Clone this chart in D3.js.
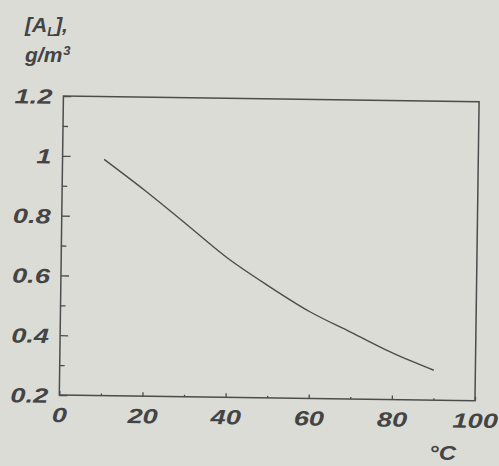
<!DOCTYPE html>
<html>
<head>
<meta charset="utf-8">
<script src="https://cdn.jsdelivr.net/npm/d3@7"></script>
<style>
  body { margin: 0; background: #dcdcd7; }
  svg { display: block; }
  .chart-text {
    font-family: 'Liberation Sans', Arial, sans-serif;
    font-weight: bold;
    font-style: italic;
    fill: #444444;
  }
</style>
</head>
<body>
<div id="chart"></div>
<script>
// Temperature (°C) and concentration [A_L] (g/m3).
var temperature = [10, 20, 30, 40, 50, 60, 70, 80, 90];
var concentration = [0.99, 0.887, 0.777, 0.666, 0.574, 0.49, 0.423, 0.356, 0.30];

var xTicks = [0, 20, 40, 60, 80, 100];
var xTickLabels = ['0', '20', '40', '60', '80', '100'];
var xMinorTicks = [10, 30, 50, 70, 90];
var yTicks = [0.2, 0.4, 0.6, 0.8, 1.0, 1.2];
var yTickLabels = ['0.2', '0.4', '0.6', '0.8', '1', '1.2'];
var yMinorTicks = [0.3, 0.5, 0.7, 0.9, 1.1];

;(function() {
  'use strict';

  var width = 499, height = 466;
  // Plot frame before the scan tilt is applied.
  var frame = {left: 59.3, right: 475, top: 96, bottom: 395};
  var tilt = 0.79;        // degrees, the scanned page is slightly rotated
  var stretch = 1.33;     // the tick digits are wider than any installed font
  var ink = '#4c4c4c';

  var svg = d3.select('#chart').append('svg')
      .attr('width', width)
      .attr('height', height);

  svg.append('rect')
      .attr('width', width)
      .attr('height', height)
      .attr('fill', '#dcdcd7');

  var xScale = d3.scaleLinear().domain([0, 100]).range([frame.left, frame.right]);
  var yScale = d3.scaleLinear().domain([0.2, 1.2]).range([frame.bottom, frame.top]);

  var plot = svg.append('g')
      .attr('transform', 'rotate(' + tilt + ',' + frame.left + ',' + frame.bottom + ')');

  // Minor ticks first, no labels.
  plot.append('g')
      .attr('transform', translation(frame.left, 0))
      .call(d3.axisLeft(yScale).tickValues(yMinorTicks).tickSize(-5).tickFormat(''))
      .call(styleAxis);

  plot.append('g')
      .attr('transform', translation(0, frame.bottom))
      .call(d3.axisBottom(xScale).tickValues(xMinorTicks).tickSize(-2).tickFormat(''))
      .call(styleAxis);

  // Major ticks with labels.
  var yAxis = plot.append('g')
      .attr('transform', translation(frame.left, 0))
      .call(d3.axisLeft(yScale)
              .tickValues(yTicks)
              .tickSize(-8)
              .tickFormat(function(d, i) { return yTickLabels[i]; }))
      .call(styleAxis);

  yAxis.selectAll('.tick text')
      .attr('x', 0)
      .attr('dy', '0.36em')
      .attr('transform', 'translate(-11,0) scale(' + stretch + ',1)');

  var xAxis = plot.append('g')
      .attr('transform', translation(0, frame.bottom))
      .call(d3.axisBottom(xScale)
              .tickValues(xTicks)
              .tickSize(-4)
              .tickFormat(function(d, i) { return xTickLabels[i]; }))
      .call(styleAxis);

  xAxis.selectAll('.tick text')
      .attr('y', 0)
      .attr('dy', 0)
      .attr('transform', 'translate(0,27) scale(' + stretch + ',1)');

  // Frame around the plot.
  plot.append('rect')
      .attr('x', frame.left)
      .attr('y', frame.top)
      .attr('width', frame.right - frame.left)
      .attr('height', frame.bottom - frame.top)
      .attr('fill', 'none')
      .attr('stroke', ink)
      .attr('stroke-width', 1.5);

  var line = d3.line()
      .curve(d3.curveMonotoneX)
      .x(function(d, i) { return xScale(temperature[i]); })
      .y(function(d) { return yScale(d); });

  plot.append('path')
      .datum(concentration)
      .attr('d', line)
      .attr('fill', 'none')
      .attr('stroke', ink)
      .attr('stroke-width', 1.4);

  // Axis titles.
  var title = svg.append('text')
      .classed('chart-text', true)
      .attr('x', 25)
      .attr('y', 32)
      .style('font-size', '21px');
  title.append('tspan').text('[A');
  title.append('tspan').attr('dy', 4).style('font-size', '13px').text('L');
  title.append('tspan').attr('dy', -4).text('],');

  var unit = svg.append('text')
      .classed('chart-text', true)
      .attr('x', 25)
      .attr('y', 62)
      .style('font-size', '21px');
  unit.append('tspan').text('g/m');
  unit.append('tspan').attr('dy', -7).attr('dx', 1).style('font-size', '13px').text('3');

  svg.append('text')
      .classed('chart-text', true)
      .attr('transform', translation(429, 460) + ' scale(1.15,1)')
      .style('font-size', '21px')
      .text('°C');

  function styleAxis(g) {
    g.select('.domain').remove();
    g.selectAll('.tick line')
        .attr('stroke', ink)
        .attr('stroke-width', 1.3);
    g.selectAll('.tick text')
        .classed('chart-text', true)
        .attr('fill', null)
        .style('font-size', '20.5px');
  }

  function translation(x, y) {
    return 'translate(' + x + ',' + y + ')';
  }
}());
</script>
</body>
</html>
